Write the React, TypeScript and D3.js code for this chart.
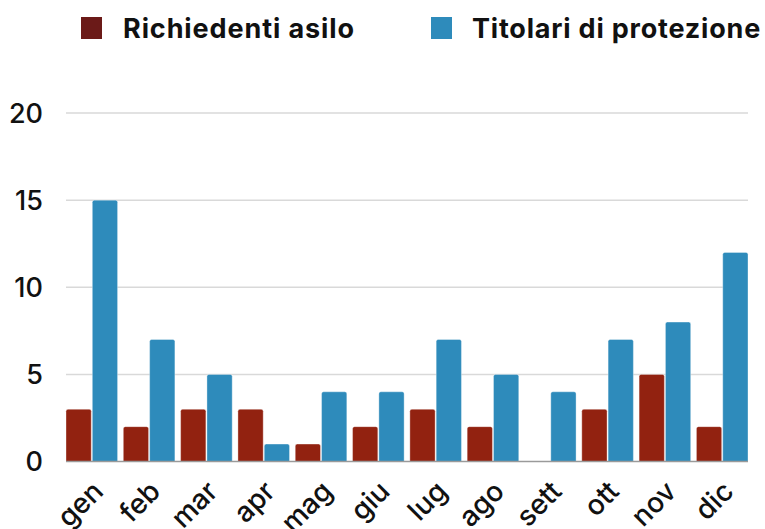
import React from "react";
import * as d3 from "d3";

const months = ["gen", "feb", "mar", "apr", "mag", "giu", "lug", "ago", "sett", "ott", "nov", "dic"];
const richiedenti = [3, 2, 3, 3, 1, 2, 3, 2, 0, 3, 5, 2];
const titolari = [15, 7, 5, 1, 4, 4, 7, 5, 4, 7, 8, 12];
const seriesNames = ["Richiedenti asilo", "Titolari di protezione"];
const yTicks = [0, 5, 10, 15, 20];

const W = 765;
const H = 529;
const RED = "#922210";
const RED_LEGEND = "#6b1a18";
const BLUE = "#2e8bbb";
const FONT = "Inter, Roboto, 'Liberation Sans', sans-serif";

function topRounded(x: number, y: number, w: number, h: number, r: number) {
  if (h <= 0) return "";
  const rr = Math.min(r, h, w / 2);
  return `M${x},${y + h}V${y + rr}Q${x},${y} ${x + rr},${y}H${x + w - rr}Q${x + w},${y} ${x + w},${y + rr}V${y + h}Z`;
}

export default function App() {
  const x = d3.scaleBand<string>().domain(months).range([66, 748]).paddingInner(0.1).paddingOuter(0);
  const inner = d3.scaleBand<string>().domain(["r", "t"]).range([0, x.bandwidth()]).paddingInner(0.04);
  const y = d3.scaleLinear().domain([0, 20]).range([461.5, 113]);

  const series = [
    { key: "r", values: richiedenti, color: RED },
    { key: "t", values: titolari, color: BLUE },
  ];

  return (
    <div style={{ position: "fixed", left: 0, top: 0 }}>
      <svg width={W} height={H} style={{ display: "block", background: "#fff" }}>
        {/* legend */}
        <rect x={81} y={17} width={21} height={22} fill={RED_LEGEND} />
        <text x={123} y={37.5} fontFamily={FONT} fontWeight={700} fontSize={27} letterSpacing={0.9} fill="#111">{seriesNames[0]}</text>
        <rect x={431} y={17} width={21} height={22} fill={BLUE} />
        <text x={472} y={37.5} fontFamily={FONT} fontWeight={700} fontSize={27} letterSpacing={0.8} fill="#111">{seriesNames[1]}</text>

        {/* gridlines */}
        {yTicks.filter((t) => t > 0).map((t) => (
          <line key={t} x1={66} x2={748} y1={y(t)} y2={y(t)} stroke="#d9d9d9" strokeWidth={1.5} />
        ))}
        {/* y tick labels */}
        {yTicks.map((t) => (
          <text key={t} x={43} y={y(t)} dy="0.36em" textAnchor="end" fontFamily={FONT} fontWeight={500} fontSize={27} fill="#111">{t}</text>
        ))}

        {/* bars */}
        {months.map((m, i) => (
          <g key={m} transform={`translate(${x(m)},0)`}>
            {series.map((s) => {
              const v = s.values[i];
              const bx = inner(s.key)!;
              const by = y(v);
              const bh = y(0) - by;
              return (
                <path key={s.key} d={topRounded(bx, by, inner.bandwidth(), bh, 2)} fill={s.color} stroke="#ffffff" strokeOpacity={0.35} strokeWidth={1} />
              );
            })}
          </g>
        ))}

        {/* baseline */}
        <line x1={66} x2={748} y1={y(0)} y2={y(0)} stroke="#9a9a9a" strokeWidth={1.5} />

        {/* x labels */}
        {months.map((m) => {
          const cx = x(m)! + x.bandwidth() / 2 + 13;
          const cy = 493;
          return (
            <text key={m} transform={`translate(${cx},${cy}) rotate(-45)`} textAnchor="end" fontFamily={FONT} fontWeight={500} fontSize={28} fill="#111">{m}</text>
          );
        })}
      </svg>
    </div>
  );
}
